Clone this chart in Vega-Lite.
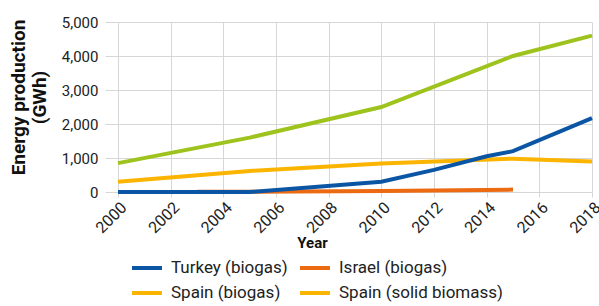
{
  "$schema": "https://vega.github.io/schema/vega-lite/v6.json",
  "width": 474,
  "height": 170,
  "autosize": {"type": "none"},
  "padding": {"left": 118, "top": 22, "right": 7, "bottom": 114},
  "background": "white",
  "config": {
    "font": "Roboto",
    "view": {"stroke": null},
    "axis": {
      "gridColor": "#d6d6d6",
      "gridWidth": 1,
      "tickColor": "#d6d6d6",
      "domain": false,
      "labelColor": "#222222",
      "titleColor": "#111111",
      "labelFont": "Roboto",
      "titleFont": "Roboto"
    },
    "legend": {"labelFont": "Roboto"}
  },
  "data": {
    "values": [
      {"series": "Spain (solid biomass)", "year": 2000, "value": 850},
      {"series": "Spain (solid biomass)", "year": 2005, "value": 1600},
      {"series": "Spain (solid biomass)", "year": 2010, "value": 2500},
      {"series": "Spain (solid biomass)", "year": 2015, "value": 4000},
      {"series": "Spain (solid biomass)", "year": 2018, "value": 4600},
      {"series": "Spain (biogas)", "year": 2000, "value": 300},
      {"series": "Spain (biogas)", "year": 2005, "value": 620},
      {"series": "Spain (biogas)", "year": 2010, "value": 840},
      {"series": "Spain (biogas)", "year": 2015, "value": 980},
      {"series": "Spain (biogas)", "year": 2018, "value": 900},
      {"series": "Israel (biogas)", "year": 2003, "value": 5},
      {"series": "Israel (biogas)", "year": 2005, "value": 10},
      {"series": "Israel (biogas)", "year": 2010, "value": 30},
      {"series": "Israel (biogas)", "year": 2015, "value": 70},
      {"series": "Turkey (biogas)", "year": 2000, "value": 0},
      {"series": "Turkey (biogas)", "year": 2005, "value": 0},
      {"series": "Turkey (biogas)", "year": 2010, "value": 300},
      {"series": "Turkey (biogas)", "year": 2012, "value": 650},
      {"series": "Turkey (biogas)", "year": 2014, "value": 1050},
      {"series": "Turkey (biogas)", "year": 2015, "value": 1200},
      {"series": "Turkey (biogas)", "year": 2018, "value": 2170}
    ]
  },
  "encoding": {
    "x": {
      "field": "year",
      "type": "quantitative",
      "scale": {"domain": [2000, 2018], "nice": false, "zero": false},
      "axis": {
        "values": [2000, 2002, 2004, 2006, 2008, 2010, 2012, 2014, 2016, 2018],
        "format": "d",
        "labelAngle": -45,
        "labelFontSize": 16,
        "tickSize": 5,
        "labelPadding": 2,
        "title": "Year",
        "titleFontSize": 15,
        "titleFontWeight": "bold",
        "titleX": 194,
        "titleY": 43
      }
    },
    "y": {
      "field": "value",
      "type": "quantitative",
      "scale": {"domain": [0, 5000], "nice": false},
      "axis": {
        "values": [0, 1000, 2000, 3000, 4000, 5000],
        "format": ",d",
        "labelFontSize": 15,
        "tickSize": 13,
        "labelPadding": 7,
        "title": ["Energy production", "(GWh)"],
        "titleFontSize": 19,
        "titleFontWeight": "bold",
        "titlePadding": 12,
        "titleY": 75
      }
    }
  },
  "layer": [
    {
      "transform": [{"filter": "datum.series === 'Spain (solid biomass)'"}],
      "mark": {"type": "line", "color": "#9ec31d", "strokeWidth": 4}
    },
    {
      "transform": [{"filter": "datum.series === 'Spain (biogas)' || datum.series === 'Israel (biogas)'"}],
      "mark": {"type": "line", "strokeWidth": 4},
      "encoding": {
        "color": {
          "field": "series",
          "type": "nominal",
          "scale": {
            "domain": ["Turkey (biogas)", "Israel (biogas)", "Spain (biogas)", "Spain (solid biomass)"],
            "range": ["#0b56a4", "#ec6a12", "#fbb400", "#fbb400"]
          },
          "legend": {
            "title": null,
            "orient": "none",
            "legendX": 12,
            "legendY": 229,
            "columns": 2,
            "direction": "horizontal",
            "symbolType": "stroke",
            "symbolSize": 900,
            "symbolStrokeWidth": 4,
            "labelFontSize": 17,
            "labelLimit": 400,
            "labelColor": "#222222",
            "labelOffset": 7,
            "columnPadding": 4,
            "rowPadding": -5
          }
        }
      }
    },
    {
      "transform": [{"filter": "datum.series === 'Turkey (biogas)'"}],
      "mark": {"type": "line", "strokeWidth": 4},
      "encoding": {
        "color": {"field": "series", "type": "nominal"}
      }
    }
  ]
}
